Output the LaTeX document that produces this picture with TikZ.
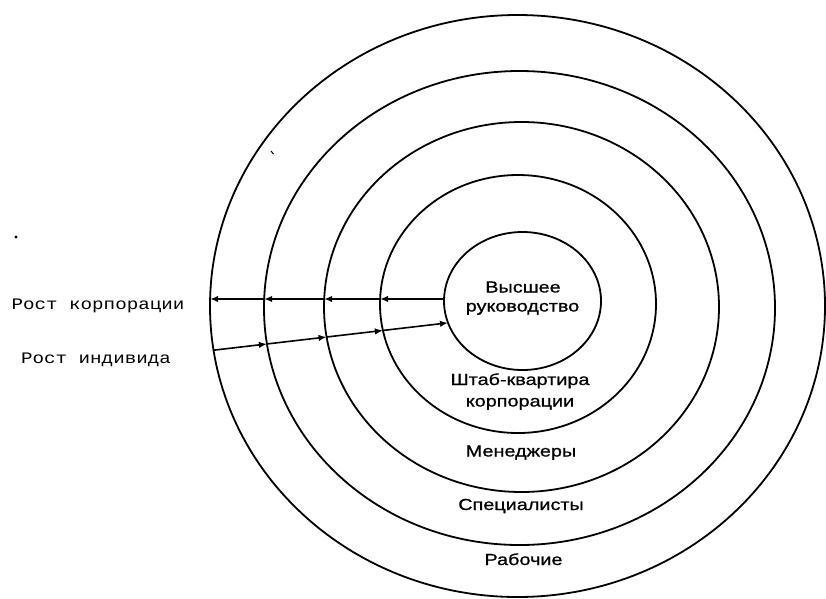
\documentclass[tikz,border=0pt]{standalone}
\usepackage{fontspec}
\usetikzlibrary{arrows.meta,intersections}
\newfontfamily\labfont[FakeStretch=1.24,FakeBold=0.8]{Liberation Sans}
\newfontfamily\sidefont[FakeStretch=1.2]{Liberation Mono}
\begin{document}
\begin{tikzpicture}[x=1pt,y=-1pt,
  ring/.style={line width=1.8pt},
  growth/.style={line width=1.6pt,-{Latex[length=8pt,width=6.5pt]}},
  lab/.style={font=\labfont\fontsize{16}{19}\selectfont,inner sep=0pt,anchor=base},
  side/.style={font=\sidefont\fontsize{16}{19}\selectfont,inner sep=0pt,anchor=base}]
\useasboundingbox (0,0) rectangle (826,598);
% rings
\draw[ring,name path=ea] (517.5,306) ellipse [x radius=307.5,y radius=291];
\draw[ring,name path=eb] (519.5,308) ellipse [x radius=255.5,y radius=237];
\draw[ring,name path=ec] (521.5,307) ellipse [x radius=197.5,y radius=185];
\draw[ring,name path=ed] (518,304) ellipse [x radius=138,y radius=129];
\draw[ring,name path=ee] (522.5,301) ellipse [x radius=78.5,y radius=69];
% helper lines
\path[name path=topline] (150,299) -- (470,299);
\path[name path=botline] (150,357.6) -- (470,320.3);
\path[name intersections={of=ea and topline,by={t1}}];
\path[name intersections={of=eb and topline,by={t2}}];
\path[name intersections={of=ec and topline,by={t3}}];
\path[name intersections={of=ed and topline,by={t4}}];
\path[name intersections={of=ee and topline,by={t5}}];
\path[name intersections={of=ea and botline,by={b1}}];
\path[name intersections={of=eb and botline,by={b2}}];
\path[name intersections={of=ec and botline,by={b3}}];
\path[name intersections={of=ed and botline,by={b4}}];
\path[name intersections={of=ee and botline,by={b5}}];
% growth of corporation (outwards)
\draw[growth] (t5) -- (t4);
\draw[growth] (t4) -- (t3);
\draw[growth] (t3) -- (t2);
\draw[growth] (t2) -- (t1);
% growth of individual (inwards)
\draw[growth] (b1) -- (b2);
\draw[growth] (b2) -- (b3);
\draw[growth] (b3) -- (b4);
\draw[growth] (b4) -- (b5);
% ring labels
\node[lab] (l1a) at (523,292.5) {Высшее};
\node[lab] (l1b) at (522.5,311.5) {руководство};
\node[lab] (l2a) at (520,385) {Штаб-квартира};
\node[lab] (l2b) at (520,406.5) {корпорации};
\node[lab] (l3) at (521,456.5) {Менеджеры};
\node[lab] (l4) at (521,510) {Специалисты};
\node[lab] (l5) at (523.5,565) {Рабочие};
% side labels
\node[side] (gc) at (98,309) {Рост корпорации};
\node[side] (gi) at (96,363) {Рост индивида};
% specks
\fill (16,237) circle [radius=1.6];
\draw[line width=1pt] (271,151) -- (273.5,154);
\end{tikzpicture}
\end{document}
